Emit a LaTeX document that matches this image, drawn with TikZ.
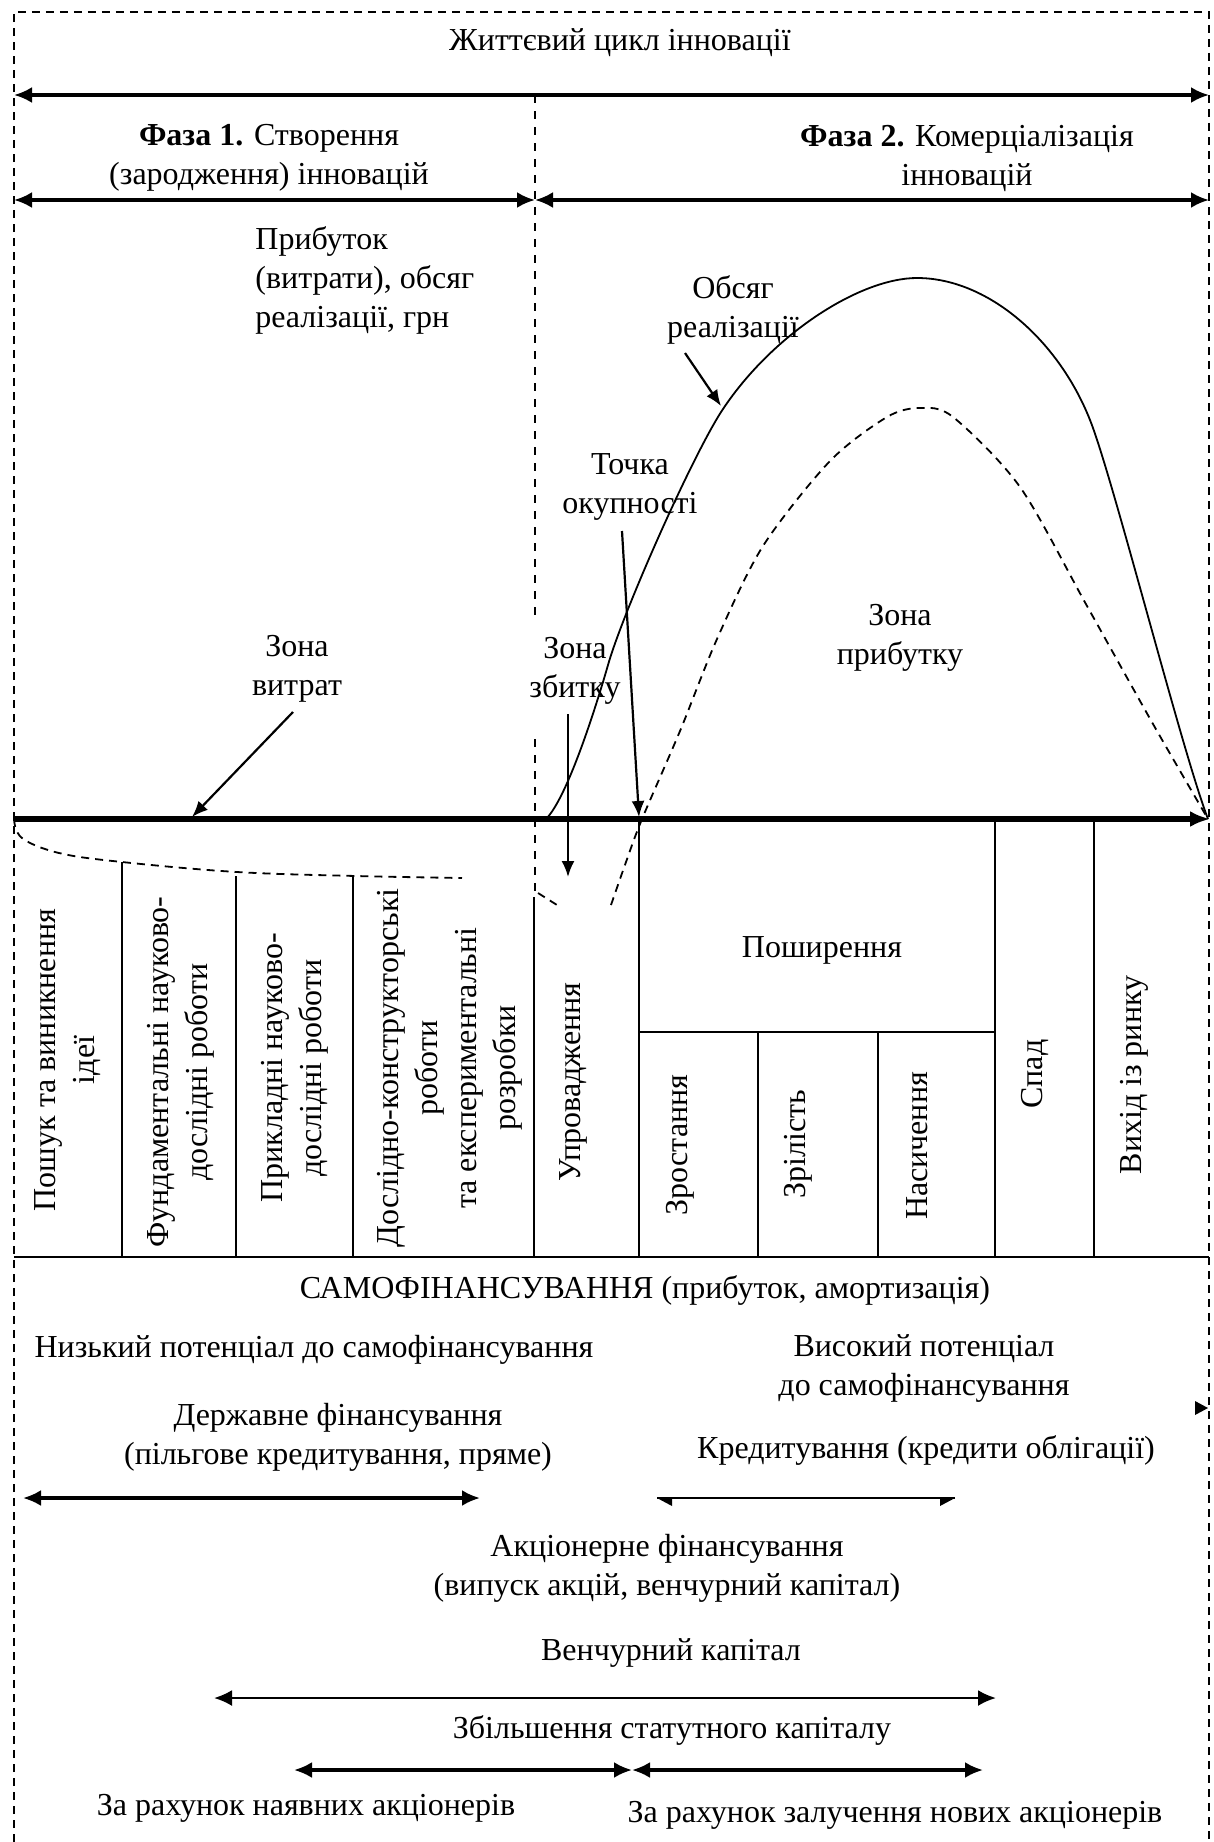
\documentclass[tikz,border=0pt]{standalone}
\usepackage{fontspec}
\setmainfont{Liberation Serif}
\usetikzlibrary{arrows.meta}
\begin{document}
\begin{tikzpicture}[x=0.5pt,y=-0.5pt,
  lbl/.style={font=\fontsize{16}{19.5}\selectfont, align=center, inner sep=0pt},
  vlbl/.style={lbl, rotate=90},
  frame/.style={line width=0.7pt, dash pattern=on 4pt off 3pt},
  divider/.style={line width=0.6pt, dash pattern=on 4pt off 4pt},
  cell/.style={line width=0.9pt},
  span/.style={line width=1.6pt, {Latex[length=9pt,width=8pt]}-{Latex[length=9pt,width=8pt]}},
  ptr/.style={line width=1.1pt, -{Latex[length=8pt,width=6.5pt]}},
  sales/.style={line width=0.9pt},
  profit/.style={line width=0.9pt, dash pattern=on 4pt off 3pt},
]
\useasboundingbox (0,0) rectangle (1214,1842);

% outer dashed frame
\draw[frame] (14,1842) -- (14,12) -- (1209,12) -- (1209,1842);

% life cycle and its two phases
\node[lbl] (title) at (620,43) {Життєвий цикл інновації};
\coordinate (lc0) at (14,95);
\coordinate (lc1) at (1209,95);
\draw[span] (lc0) -- (lc1);
\node[lbl] (ph1) at (269,158) {\textbf{Фаза 1.} Створення\\(зародження) інновацій};
\node[lbl] (ph2) at (967,158) {\textbf{Фаза 2.} Комерціалізація\\інновацій};
\coordinate (pa0) at (14,200);
\coordinate (pam) at (535,200);
\coordinate (pa1) at (1209,200);
\draw[span] (pa0) -- (pam);
\draw[span] (pam) -- (pa1);

% phase border
\draw[divider] (535,95) -- (535,620);
\draw[divider] (535,739) -- (535,895);

% vertical axis caption
\node[lbl, align=left, anchor=west] (ylab) at (255,280) {Прибуток\\(витрати), обсяг\\реалізації, грн};

% time axis
\coordinate (ax0) at (14,819);
\coordinate (ax1) at (1210,819);
\draw[line width=2.6pt, -{Latex[length=10pt,width=8pt]}] (ax0) -- (ax1);

% sales volume curve
\coordinate (sv0) at (546,819);
\coordinate (sv1) at (608,665);
\coordinate (sv2) at (723,409);
\coordinate (sv3) at (917,278);
\coordinate (sv4) at (1093,428);
\coordinate (sv5) at (1208,819);
\draw[sales] (sv0) .. controls (566,799) and (593,717) .. (sv1)
  .. controls (623,612) and (693,454) .. (sv2)
  .. controls (773,334) and (860,278) .. (sv3)
  .. controls (990,278) and (1063,344) .. (sv4)
  .. controls (1118,498) and (1183,754) .. (sv5);

% profit (cost) curve
\draw[profit] plot[smooth, tension=0.6] coordinates {(14,819) (22,838) (59,853) (122,862) (237,872) (356,876) (462,878)};
\draw[profit] (538,893) -- (557,905);
\draw[profit] plot[smooth, tension=0.5] coordinates {(611,905) (626,862) (642,819) (680,731) (717,639) (763,546) (830,461) (887,417) (920,408) (953,417) (1020,487) (1087,606) (1153,724) (1208,819)};

% zone labels and pointers
\node[lbl] (cost) at (297,669) {Зона\\витрат};
\coordinate (costA) at (293,712);
\coordinate (costB) at (192,817);
\draw[ptr] (costA) -- (costB);

\node[lbl] (loss) at (575,671) {Зона\\збитку};
\coordinate (lossA) at (568,714);
\coordinate (lossB) at (568,877);
\draw[ptr] (lossA) -- (lossB);

\node[lbl] (beven) at (630,487) {Точка\\окупності};
\coordinate (bevA) at (622,531);
\coordinate (bevB) at (639,817);
\draw[ptr] (bevA) -- (bevB);

\node[lbl] (vol) at (733,310) {Обсяг\\реалізації};
\coordinate (volA) at (685,353);
\coordinate (volB) at (721,406);
\draw[ptr] (volA) -- (volB);

\node[lbl] (gain) at (900,638) {Зона\\прибутку};

% stage cells
\draw[cell] (122,862) -- (122,1257);
\draw[cell] (236,876) -- (236,1257);
\draw[cell] (353,876) -- (353,1257);
\draw[cell] (534,897) -- (534,1257);
\draw[cell] (639,819) -- (639,1257);
\draw[cell] (758,1032) -- (758,1257);
\draw[cell] (878,1032) -- (878,1257);
\draw[cell] (995,819) -- (995,1257);
\draw[cell] (1094,819) -- (1094,1257);
\draw[cell] (639,1032) -- (995,1032);
\draw[cell] (14,1257) -- (1209,1257);

\node[vlbl] (s1) at (68,1060) {Пошук та виникнення\\ідеї};
\node[vlbl] (s2) at (181,1072) {Фундаментальні науково-\\дослідні роботи};
\node[vlbl] (s3) at (295,1068) {Прикладні науково-\\дослідні роботи};
\node[vlbl] (s4) at (450,1068) {Дослідно-конструкторські\\роботи\\та експериментальні\\розробки};
\node[vlbl] (s5) at (573,1082) {Упровадження};
\node[lbl] (s6) at (822,950) {Поширення};
\node[vlbl] (s7) at (680,1145) {Зростання};
\node[vlbl] (s8) at (798,1144) {Зрілість};
\node[vlbl] (s9) at (917,1146) {Насичення};
\node[vlbl] (s10) at (1035,1074) {Спад};
\node[vlbl] (s11) at (1134,1075) {Вихід із ринку};

% financing sources
\node[lbl] (self) at (645,1290) {САМОФІНАНСУВАННЯ (прибуток, амортизація)};
\node[lbl] (low) at (314,1350) {Низький потенціал до самофінансування};
\node[lbl] (high) at (924,1368) {Високий потенціал\\до самофінансування};
\node[lbl] (state) at (338,1437) {Державне фінансування\\(пільгове кредитування, пряме)};
\node[lbl] (credit) at (926,1450) {Кредитування (кредити облігації)};
\coordinate (tip) at (1208,1408);
\fill (tip) -- ++(-13,-7) -- ++(0,14) -- cycle;

\coordinate (st0) at (23,1498);
\coordinate (st1) at (480,1498);
\draw[span] (st0) -- (st1);

% credit span with half heads below the line
\coordinate (cr0) at (657,1498);
\coordinate (cr1) at (955,1498);
\draw[line width=0.8pt] (cr0) -- (cr1);
\fill (cr0) -- ++(15,0) -- ++(0,8) -- cycle;
\fill (cr1) -- ++(-15,0) -- ++(0,8) -- cycle;

\node[lbl] (equity) at (667,1568) {Акціонерне фінансування\\(випуск акцій, венчурний капітал)};
\node[lbl] (venture) at (671,1653) {Венчурний капітал};
\coordinate (vc0) at (214,1698);
\coordinate (vc1) at (996,1698);
\draw[span, line width=1.2pt] (vc0) -- (vc1);

\node[lbl] (charter) at (672,1730) {Збільшення статутного капіталу};
\coordinate (ch0) at (294,1770);
\coordinate (chm) at (632,1770);
\coordinate (ch1) at (983,1770);
\draw[span] (ch0) -- (chm);
\draw[span] (chm) -- (ch1);

\node[lbl] (old) at (306,1808) {За рахунок наявних акціонерів};
\node[lbl] (new) at (895,1815) {За рахунок залучення нових акціонерів};
\end{tikzpicture}
\end{document}
